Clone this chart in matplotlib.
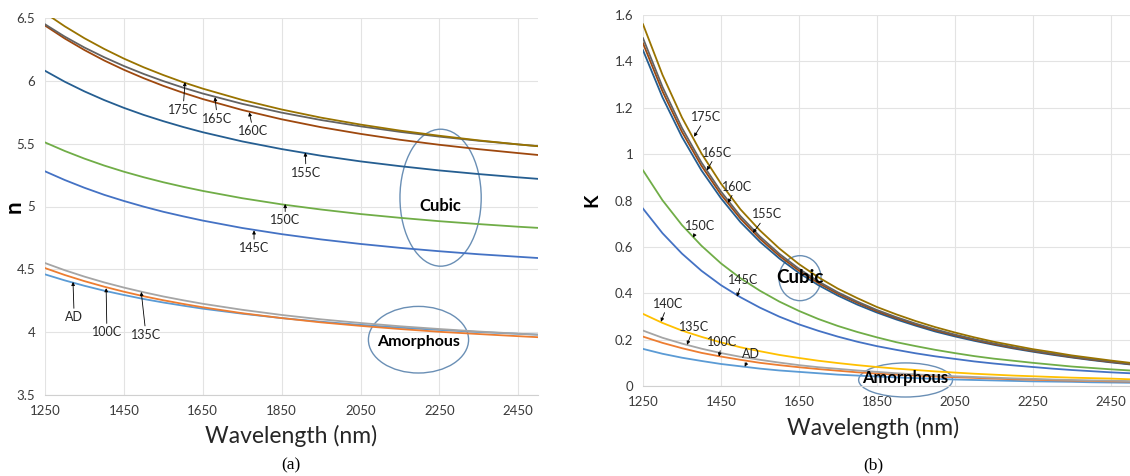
import matplotlib
matplotlib.use("Agg")
import matplotlib.pyplot as plt
from matplotlib.patches import Ellipse
from matplotlib.ticker import FuncFormatter

wl_n = [1250, 1300, 1350, 1400, 1450, 1500, 1550, 1600, 1650,
        1750, 1850, 1950, 2050, 2150, 2250, 2350, 2450, 2500]
wl_k = [1250, 1300, 1350, 1400, 1450, 1500, 1550, 1600, 1650, 1700, 1750, 1800, 1850,
        1900, 1950, 2000, 2050, 2100, 2150, 2200, 2250, 2300, 2350, 2400, 2450, 2500]

# (a) refractive index n
n_ad   = [4.460, 4.412, 4.369, 4.330, 4.296, 4.264, 4.236, 4.211, 4.187, 4.147, 4.112, 4.083, 4.058, 4.036, 4.018, 4.001, 3.987, 3.980]
n_100c = [4.510, 4.455, 4.406, 4.362, 4.322, 4.286, 4.254, 4.225, 4.198, 4.151, 4.112, 4.078, 4.050, 4.025, 4.003, 3.985, 3.968, 3.960]
n_135c = [4.550, 4.493, 4.442, 4.396, 4.355, 4.318, 4.284, 4.254, 4.226, 4.178, 4.137, 4.102, 4.073, 4.047, 4.025, 4.005, 3.988, 3.980]
n_145c = [5.280, 5.211, 5.149, 5.093, 5.044, 4.999, 4.958, 4.922, 4.888, 4.829, 4.780, 4.738, 4.702, 4.671, 4.644, 4.620, 4.600, 4.590]
n_150c = [5.510, 5.442, 5.381, 5.326, 5.277, 5.233, 5.193, 5.157, 5.124, 5.066, 5.017, 4.976, 4.940, 4.910, 4.883, 4.860, 4.839, 4.830]
n_155c = [6.080, 5.993, 5.916, 5.847, 5.785, 5.729, 5.679, 5.633, 5.591, 5.518, 5.457, 5.404, 5.359, 5.321, 5.287, 5.258, 5.232, 5.220]
n_160c = [6.440, 6.337, 6.245, 6.162, 6.088, 6.021, 5.960, 5.905, 5.855, 5.768, 5.694, 5.631, 5.578, 5.531, 5.491, 5.456, 5.425, 5.410]
n_165c = [6.450, 6.352, 6.265, 6.188, 6.118, 6.055, 5.998, 5.946, 5.899, 5.817, 5.747, 5.688, 5.638, 5.594, 5.556, 5.523, 5.494, 5.480]
n_175c = [6.540, 6.434, 6.339, 6.254, 6.177, 6.108, 6.046, 5.989, 5.938, 5.848, 5.772, 5.707, 5.652, 5.604, 5.563, 5.526, 5.494, 5.480]

# (b) extinction coefficient k
k_ad   = [0.160, 0.139, 0.122, 0.108, 0.095, 0.085, 0.075, 0.067, 0.061, 0.055, 0.049, 0.045, 0.041,
          0.037, 0.034, 0.031, 0.028, 0.026, 0.024, 0.022, 0.020, 0.019, 0.018, 0.016, 0.015, 0.014]
k_100c = [0.213, 0.186, 0.163, 0.143, 0.127, 0.113, 0.100, 0.090, 0.081, 0.073, 0.066, 0.059, 0.054,
          0.049, 0.045, 0.041, 0.038, 0.035, 0.032, 0.029, 0.027, 0.025, 0.023, 0.022, 0.020, 0.019]
k_135c = [0.239, 0.208, 0.183, 0.161, 0.142, 0.126, 0.113, 0.101, 0.090, 0.081, 0.074, 0.067, 0.061,
          0.055, 0.050, 0.046, 0.042, 0.039, 0.036, 0.033, 0.031, 0.028, 0.026, 0.024, 0.023, 0.021]
k_140c = [0.311, 0.272, 0.239, 0.212, 0.188, 0.167, 0.150, 0.134, 0.121, 0.109, 0.099, 0.090, 0.082,
          0.075, 0.069, 0.063, 0.058, 0.053, 0.049, 0.045, 0.042, 0.039, 0.036, 0.034, 0.032, 0.029]
k_145c = [0.765, 0.659, 0.571, 0.497, 0.435, 0.383, 0.338, 0.299, 0.266, 0.238, 0.213, 0.191, 0.172,
          0.156, 0.141, 0.128, 0.117, 0.106, 0.097, 0.089, 0.082, 0.075, 0.069, 0.064, 0.059, 0.055]
k_150c = [0.930, 0.801, 0.694, 0.605, 0.529, 0.465, 0.411, 0.364, 0.324, 0.289, 0.259, 0.233, 0.210,
          0.189, 0.172, 0.156, 0.142, 0.129, 0.118, 0.109, 0.100, 0.092, 0.084, 0.078, 0.072, 0.067]
k_155c = [1.448, 1.245, 1.074, 0.930, 0.810, 0.707, 0.622, 0.550, 0.488, 0.435, 0.390, 0.351, 0.317,
          0.287, 0.260, 0.235, 0.214, 0.195, 0.178, 0.162, 0.148, 0.135, 0.123, 0.112, 0.102, 0.093]
k_160c = [1.478, 1.271, 1.096, 0.950, 0.826, 0.722, 0.635, 0.561, 0.498, 0.444, 0.398, 0.359, 0.323,
          0.293, 0.265, 0.240, 0.219, 0.199, 0.181, 0.165, 0.151, 0.138, 0.125, 0.114, 0.104, 0.095]
k_165c = [1.500, 1.290, 1.113, 0.964, 0.839, 0.733, 0.645, 0.570, 0.506, 0.451, 0.404, 0.364, 0.328,
          0.297, 0.269, 0.244, 0.222, 0.202, 0.184, 0.168, 0.153, 0.140, 0.127, 0.116, 0.106, 0.096]
k_175c = [1.560, 1.342, 1.158, 1.003, 0.873, 0.762, 0.671, 0.593, 0.526, 0.469, 0.420, 0.379, 0.341,
          0.309, 0.280, 0.254, 0.231, 0.210, 0.191, 0.175, 0.159, 0.146, 0.132, 0.121, 0.110, 0.100]

# Office palette, one colour per annealing condition
colors = {"AD": "#5B9BD5", "100C": "#ED7D31", "135C": "#A5A5A5", "140C": "#FFC000",
          "145C": "#4472C4", "150C": "#70AD47", "155C": "#255E91", "160C": "#9E480E",
          "165C": "#636363", "175C": "#997300"}

n_series = [("AD", n_ad), ("100C", n_100c), ("135C", n_135c), ("145C", n_145c), ("150C", n_150c),
            ("155C", n_155c), ("160C", n_160c), ("165C", n_165c), ("175C", n_175c)]
k_series = [("AD", k_ad), ("100C", k_100c), ("135C", k_135c), ("140C", k_140c), ("145C", k_145c),
            ("150C", k_150c), ("155C", k_155c), ("160C", k_160c), ("165C", k_165c), ("175C", k_175c)]

# label text position, arrow tip (data coords)
n_labels = {"175C": ((1600, 5.77), (1605, 5.99)), "165C": ((1687, 5.70), (1681, 5.87)),
            "160C": ((1778, 5.60), (1768, 5.75)), "155C": ((1912, 5.27), (1910, 5.43)),
            "150C": ((1859, 4.89), (1859, 5.02)), "145C": ((1780, 4.67), (1780, 4.81)),
            "AD": ((1324, 4.12), (1321, 4.40)), "100C": ((1407, 4.00), (1405, 4.35)),
            "135C": ((1506, 3.98), (1494, 4.32))}
k_labels = {"175C": ((1412, 1.16), (1381, 1.075)), "165C": ((1440, 1.006), (1414, 0.93)),
            "160C": ((1491, 0.86), (1468, 0.79)), "155C": ((1568, 0.74), (1532, 0.66)),
            "150C": ((1396, 0.69), (1378, 0.64)), "145C": ((1506, 0.458), (1491, 0.385)),
            "140C": ((1314, 0.354), (1296, 0.277)), "135C": ((1381, 0.255), (1363, 0.178)),
            "100C": ((1453, 0.19), (1445, 0.127)), "AD": ((1527, 0.138), (1511, 0.083))}

plt.rcParams["font.family"] = ["Lato", "DejaVu Sans"]
fig = plt.figure(figsize=(11.3, 4.76), dpi=100)
W, H = 1130, 476
ax_a = fig.add_axes([45 / W, (H - 395) / H, (538 - 45) / W, (395 - 18) / H])
ax_b = fig.add_axes([643 / W, (H - 386) / H, (1130 - 643) / W, (386 - 15) / H])

fmt = FuncFormatter(lambda v, p: f"{v:g}")
for ax in (ax_a, ax_b):
    ax.set_xlim(1250, 2500)
    ax.set_xticks(range(1250, 2451, 200))
    ax.grid(True, color="#E3E3E3", lw=0.8)
    ax.set_axisbelow(True)
    for s in ("top", "right", "left"):
        ax.spines[s].set_visible(False)
    ax.spines["bottom"].set_color("#D0D0D0")
    ax.tick_params(length=0, labelsize=9.5, colors="#3a3a3a", pad=7)
    ax.yaxis.set_major_formatter(fmt)

ax_a.set_ylim(3.5, 6.5)
ax_a.set_yticks([3.5, 4, 4.5, 5, 5.5, 6, 6.5])
ax_b.set_ylim(0, 1.6)
ax_b.set_yticks([0, 0.2, 0.4, 0.6, 0.8, 1, 1.2, 1.4, 1.6])

for name, ys in n_series:
    ax_a.plot(wl_n, ys, color=colors[name], lw=1.3)
for name, ys in k_series:
    ax_b.plot(wl_k, ys, color=colors[name], lw=1.3)

arrow = dict(arrowstyle="-|>", color="black", lw=0.6, mutation_scale=5, shrinkA=0, shrinkB=0)
for name, (txt, tip) in n_labels.items():
    ax_a.annotate(name, xy=tip, xytext=txt, ha="center", va="center", fontsize=9,
                  color="#262626", arrowprops=arrow)
for name, (txt, tip) in k_labels.items():
    ax_b.annotate(name, xy=tip, xytext=txt, ha="center", va="center", fontsize=9,
                  color="#262626", arrowprops=arrow)

ell_col = "#6A8FB5"
ax_a.add_patch(Ellipse((2253, 5.07), 206, 1.09, fill=False, ec=ell_col, lw=1))
ax_a.text(2253, 5.00, "Cubic", ha="center", va="center", fontsize=12, fontweight="bold")
ax_a.add_patch(Ellipse((2197, 3.94), 254, 0.53, fill=False, ec=ell_col, lw=1))
ax_a.text(2197, 3.925, "Amorphous", ha="center", va="center", fontsize=11.5, fontweight="bold")

ax_b.add_patch(Ellipse((1653, 0.465), 108, 0.194, fill=False, ec=ell_col, lw=1))
ax_b.text(1653, 0.467, "Cubic", ha="center", va="center", fontsize=13.5, fontweight="bold")
ax_b.add_patch(Ellipse((1924, 0.026), 241, 0.147, fill=False, ec=ell_col, lw=1, clip_on=False))
ax_b.text(1924, 0.035, "Amorphous", ha="center", va="center", fontsize=12, fontweight="bold")

# axis titles and panel tags
fig.text(14 / W, 1 - 207 / H, "n", rotation=90, ha="center", va="center", fontsize=16, fontweight="bold")
fig.text(592 / W, 1 - 200 / H, "K", rotation=90, ha="center", va="center", fontsize=14, fontweight="bold")
fig.text(291 / W, 1 - 436 / H, "Wavelength (nm)", ha="center", va="center", fontsize=16.5, color="#262626")
fig.text(873 / W, 1 - 428 / H, "Wavelength (nm)", ha="center", va="center", fontsize=16.5, color="#262626")
fig.text(291 / W, 1 - 465 / H, "(a)", ha="center", va="center", fontsize=12.5, family="Liberation Serif")
fig.text(873 / W, 1 - 465 / H, "(b)", ha="center", va="center", fontsize=12.5, family="Liberation Serif")

fig.savefig("out.png", dpi=100)
